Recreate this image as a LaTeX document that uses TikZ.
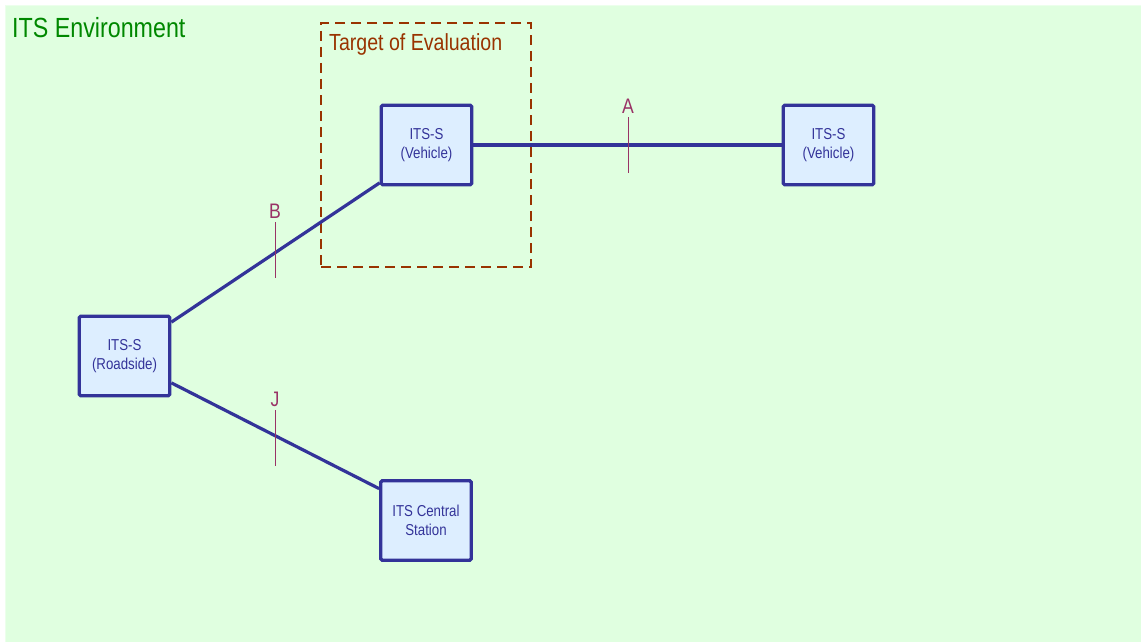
\documentclass[tikz,border=0pt]{standalone}
\usepackage{fontspec}
\usetikzlibrary{calc}
\newfontfamily\diagfont[FakeStretch=0.84]{Liberation Sans}
\definecolor{envfill}{HTML}{E0FFE0}
\definecolor{envedge}{HTML}{ECFFEC}
\definecolor{envtext}{HTML}{008800}
\definecolor{stationblue}{HTML}{333399}
\definecolor{stationfill}{HTML}{DDEEFF}
\definecolor{toebrown}{HTML}{993300}
\definecolor{refpoint}{HTML}{993366}
\begin{document}
\begin{tikzpicture}[x=1pt,y=-1pt,
  station/.style={draw=stationblue, line width=3.2pt, fill=stationfill,
    rounded corners=1.5pt, minimum width=90.5pt, minimum height=79.5pt,
    inner sep=0pt, align=center, text=stationblue,
    font=\diagfont\fontsize{15.8}{19}\selectfont},
  link/.style={draw=stationblue, line width=3.2pt},
  tick/.style={draw=refpoint, line width=1pt},
  reflabel/.style={text=refpoint, inner sep=0pt,
    font=\diagfont\fontsize{21}{24}\selectfont},
  toeframe/.style={draw=toebrown, line width=2pt, dash pattern=on 10pt off 6pt,
    minimum width=210pt, minimum height=244pt, inner sep=0pt}]
\useasboundingbox (0,0) rectangle (1141,642);

% ITS environment area
\fill[envfill, draw=envedge, line width=1pt] (5.5,5.5) rectangle (1141,642);
\node[anchor=base west, inner sep=0pt, text=envtext,
  font=\diagfont\fontsize{27.7}{32}\selectfont] (envtitle) at (12,38) {ITS Environment};

% Target of evaluation frame
\node[toeframe] (toe) at (426,145) {};
\node[anchor=base west, inner sep=0pt, text=toebrown,
  font=\diagfont\fontsize{23.3}{27}\selectfont] (toetitle) at (329,51) {Target of Evaluation};

% ITS stations
\node[station] (veh1) at (426.5,145) {ITS-S\\(Vehicle)};
\node[station] (veh2) at (828.5,145) {ITS-S\\(Vehicle)};
\node[station] (road) at (124.5,356) {ITS-S\\(Roadside)};
\node[station] (central) at (426,520.5) {ITS Central\\Station};

% Communication links
\draw[link] (veh1.east) -- (veh2.west);
\draw[link] ($(road.north east)+(0,7.5)$) -- ($(veh1.south west)+(0,-3.5)$);
\draw[link] ($(road.south east)+(0,-14.5)$) -- ($(central.north west)+(0,9.5)$);

% Reference points
\coordinate (tA1) at (628,117); \coordinate (tA2) at (628,173);
\coordinate (tB1) at (275,222); \coordinate (tB2) at (275,278);
\coordinate (tJ1) at (275,410); \coordinate (tJ2) at (275,466);
\draw[tick] (tA1) -- (tA2);
\draw[tick] (tB1) -- (tB2);
\draw[tick] (tJ1) -- (tJ2);
\node[reflabel, anchor=south] (labA) at ($(tA1)+(0,-3)$) {A};
\node[reflabel, anchor=south] (labB) at ($(tB1)+(0,-3)$) {B};
\node[reflabel, anchor=south] (labJ) at ($(tJ1)+(0,-3)$) {J};
\end{tikzpicture}
\end{document}
